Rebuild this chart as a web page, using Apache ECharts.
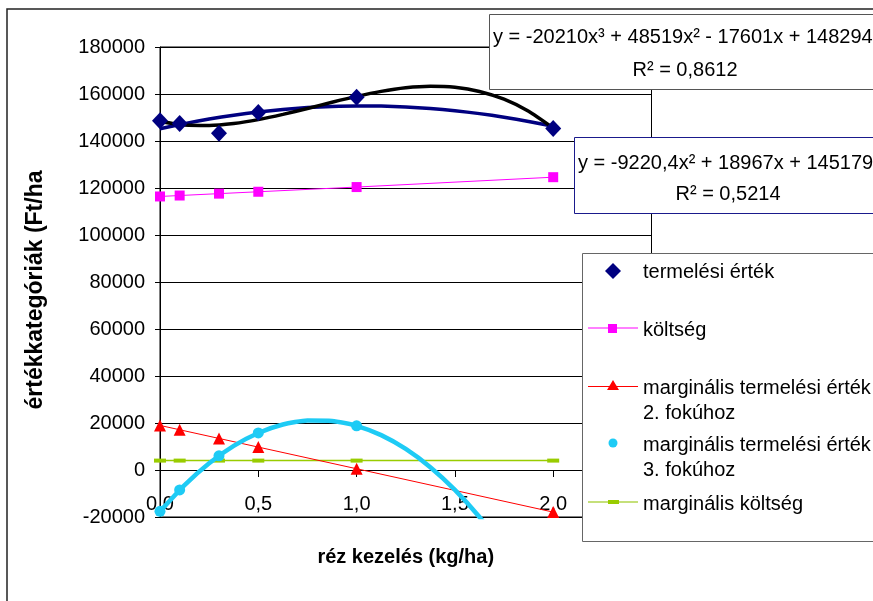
<!DOCTYPE html>
<html>
<head>
<meta charset="utf-8">
<script src="https://cdn.jsdelivr.net/npm/echarts@6/dist/echarts.min.js"></script>
<style>html,body{margin:0;padding:0;background:#fff}#c{width:873px;height:601px}</style>
</head>
<body>
<div id="c"></div>
<script>
// ---- data ----
const xVals = [0, 0.1, 0.3, 0.5, 1.0, 2.0];
const termelesiErtek = [148600, 147400, 143300, 152100, 158600, 145300];
const koltseg = [116400, 116800, 117600, 118400, 120400, 124600];
const margTerm2 = [18967, 17123, 13435, 9747, 526, -17914];
const margTerm3 = [-17601, -8504, 6054, 15761, 18807, -66045];
const margKoltseg = [4000, 4000, 4000, 4000, 4000, 4000];

// trendlines
const trendX = [0, 0.125, 0.25, 0.375, 0.5, 0.625, 0.75, 0.875, 1.0, 1.125, 1.25, 1.375, 1.5, 1.625, 1.75, 1.875, 2.0];
const trendCubic = [148294, 146813, 146610, 147451, 149097, 151312, 153859, 156501, 159002, 161124, 162631, 163287, 162852, 161092, 157769, 152648, 145488];
const trendQuad = [145179, 147406, 149345, 150995, 152357, 153432, 154218, 154716, 154926, 154847, 154481, 153826, 152884, 151653, 150134, 148326, 146231];
const trendMarg3X = [0, 0.125, 0.25, 0.375, 0.5, 0.625, 0.75, 0.875, 1.0, 1.125, 1.25, 1.375, 1.5, 1.625, 1.75];
const trendMarg3 = [-17601, -6419, 2869, 10262, 15761, 19364, 21073, 20888, 18807, 14832, 8962, 1199, -8462, -20015, -33464];

const xTicks = [0, 0.5, 1.0, 1.5, 2.0];
const yTicks = [-20000, 0, 20000, 40000, 60000, 80000, 100000, 120000, 140000, 160000, 180000];

const xTitle = 'réz kezelés (kg/ha)';
const yTitle = 'értékkategóriák (Ft/ha';
const legendNames = ['termelési érték', 'költség', 'marginális termelési érték', '2. fokúhoz', 'marginális termelési érték', '3. fokúhoz', 'marginális költség'];
const eq1 = ['y = -20210x³ + 48519x² - 17601x + 148294', 'R² = 0,8612'];
const eq2 = ['y = -9220,4x² + 18967x + 145179', 'R² = 0,5214'];

const FONT = '"Liberation Sans", Arial, sans-serif';
const pair = (xs, ys) => xs.map((x, i) => [x, ys[i]]);

const C_NAVY = '#000080', C_MAG = '#FF00FF', C_RED = '#FF0000', C_CYAN = '#1ECBF5', C_GREEN = '#99CC00';

const chart = echarts.init(document.getElementById('c'), null, {renderer: 'canvas'});

function txt(x, y, s, opts, extra) {
  return Object.assign({type: 'text', x: x, y: y, z: 102, silent: true,
    style: Object.assign({text: s, fontSize: 20, fontFamily: FONT, fill: '#000', verticalAlign: 'middle', align: 'left'}, opts || {})}, extra || {});
}

const graphics = [
  {type: 'rect', z: -10, silent: true, shape: {x: 7, y: 9, width: 900, height: 700}, style: {fill: 'none', stroke: '#222', lineWidth: 1.5}},
  // y axis title
  txt(36, 290, yTitle, {fontSize: 23, fontWeight: 'bold', align: 'center'}, {rotation: Math.PI / 2}),
  // equation box 1
  {type: 'rect', z: 100, silent: true, shape: {x: 489.5, y: 14.5, width: 400, height: 75}, style: {fill: '#fff', stroke: '#555', lineWidth: 1}},
  txt(493, 37, eq1[0]),
  txt(685, 70, eq1[1], {align: 'center'}),
  // equation box 2
  {type: 'rect', z: 100, silent: true, shape: {x: 574.5, y: 137.5, width: 400, height: 76}, style: {fill: '#fff', stroke: '#1a1a8c', lineWidth: 1}},
  txt(578, 163, eq2[0]),
  txt(728, 194, eq2[1], {align: 'center'}),
  // legend box
  {type: 'rect', z: 100, silent: true, shape: {x: 582.5, y: 253.5, width: 400, height: 288}, style: {fill: '#fff', stroke: '#666', lineWidth: 1}},
  // item 1: diamond
  {type: 'polygon', z: 102, silent: true, shape: {points: [[613, 263], [621, 271], [613, 279], [605, 271]]}, style: {fill: C_NAVY}},
  txt(643, 272, legendNames[0]),
  // item 2
  {type: 'line', z: 101, silent: true, shape: {x1: 588, y1: 328, x2: 638, y2: 328}, style: {stroke: C_MAG, lineWidth: 1}},
  {type: 'rect', z: 102, silent: true, shape: {x: 608, y: 324, width: 9, height: 9}, style: {fill: C_MAG}},
  txt(643, 330, legendNames[1]),
  // item 3
  {type: 'line', z: 101, silent: true, shape: {x1: 588, y1: 386.5, x2: 638, y2: 386.5}, style: {stroke: C_RED, lineWidth: 1}},
  {type: 'polygon', z: 102, silent: true, shape: {points: [[613, 380], [619, 390], [607, 390]]}, style: {fill: C_RED}},
  txt(643, 388, legendNames[2]),
  txt(643, 413, legendNames[3]),
  // item 4
  {type: 'circle', z: 102, silent: true, shape: {cx: 613, cy: 443, r: 4.5}, style: {fill: C_CYAN}},
  txt(643, 445, legendNames[4]),
  txt(643, 470, legendNames[5]),
  // item 5
  {type: 'line', z: 101, silent: true, shape: {x1: 588, y1: 502, x2: 638, y2: 502}, style: {stroke: '#C5E07A', lineWidth: 2}},
  {type: 'rect', z: 102, silent: true, shape: {x: 608, y: 500, width: 11, height: 4}, style: {fill: C_GREEN}},
  txt(643, 504, legendNames[6])
];

const option = {
  backgroundColor: '#fff',
  animation: false,
  textStyle: {fontFamily: FONT},
  grid: {left: 160, top: 47, width: 491.5, height: 470, show: true, borderColor: '#000', borderWidth: 1,
    containLabel: false, outerBoundsMode: 'none'},
  xAxis: {
    type: 'value', min: 0, max: 2.5, interval: 0.5,
    offset: -47,
    name: xTitle, nameLocation: 'middle', nameGap: 77,
    nameTextStyle: {fontSize: 20, fontWeight: 'bold', color: '#000', fontFamily: FONT},
    axisLine: {show: true, onZero: false, lineStyle: {color: '#000', width: 1}},
    axisTick: {show: true, inside: false, length: 7, lineStyle: {color: '#000'}},
    axisLabel: {fontSize: 20, color: '#000', margin: 24, fontFamily: FONT, hideOverlap: false,
      formatter: v => (xTicks.indexOf(v) >= 0 ? v.toFixed(1).replace('.', ',') : '')},
    splitLine: {show: false}
  },
  yAxis: {
    type: 'value', min: yTicks[0], max: yTicks[yTicks.length - 1], interval: 20000,
    axisLine: {show: true, onZero: false, lineStyle: {color: '#000', width: 1}},
    axisTick: {show: true, inside: false, length: 5, lineStyle: {color: '#000'}},
    axisLabel: {fontSize: 20, color: '#000', margin: 15, fontFamily: FONT, formatter: v => String(v)},
    splitLine: {show: true, lineStyle: {color: '#000', width: 1}}
  },
  series: [
    {name: 'quadTrend', type: 'line', data: pair(trendX, trendQuad), smooth: 0.2, showSymbol: false, symbol: 'none',
      lineStyle: {color: C_NAVY, width: 3.5}, z: 3},
    {name: 'cubicTrend', type: 'line', data: pair(trendX, trendCubic), smooth: 0.2, showSymbol: false, symbol: 'none',
      lineStyle: {color: '#000', width: 3.5}, z: 4},
    {name: 'költség', type: 'line', data: pair(xVals, koltseg), symbol: 'rect', symbolSize: 10,
      itemStyle: {color: C_MAG}, lineStyle: {color: C_MAG, width: 1}, z: 5},
    {name: 'marginális költség', type: 'line', data: pair(xVals, margKoltseg), symbol: 'rect', symbolSize: [12, 4],
      itemStyle: {color: C_GREEN}, lineStyle: {color: C_GREEN, width: 1.5}, z: 5},
    {name: 'marginális termelési érték 2. fokúhoz', type: 'line', data: pair(xVals, margTerm2), symbol: 'triangle', symbolSize: 12,
      itemStyle: {color: C_RED}, lineStyle: {color: C_RED, width: 1}, z: 6},
    {name: 'marg3Trend', type: 'line', data: pair(trendMarg3X, trendMarg3), smooth: 0.2, showSymbol: false, symbol: 'none',
      lineStyle: {color: C_CYAN, width: 4.5}, clip: true, z: 7},
    {name: 'marginális termelési érték 3. fokúhoz', type: 'scatter', data: pair(xVals, margTerm3), symbol: 'circle', symbolSize: 11,
      itemStyle: {color: C_CYAN, opacity: 1}, clip: true, z: 8},
    {name: 'termelési érték', type: 'scatter', data: pair(xVals, termelesiErtek), symbol: 'diamond', symbolSize: [16, 17],
      itemStyle: {color: C_NAVY, opacity: 1}, clip: true, z: 9}
  ],
  graphic: {elements: graphics}
};
chart.setOption(option);
</script>
</body>
</html>
